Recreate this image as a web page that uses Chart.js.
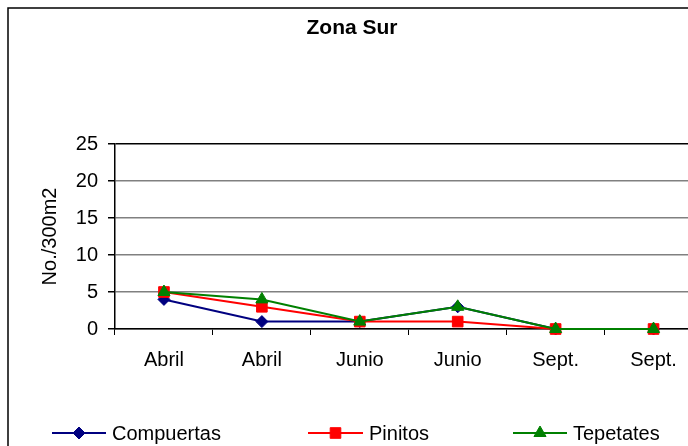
<!DOCTYPE html>
<html>
<head>
<meta charset="utf-8">
<script src="https://cdn.jsdelivr.net/npm/chart.js@4/dist/chart.umd.min.js"></script>
<style>
  html, body { margin: 0; padding: 0; background: #fff; }
  #wrap { width: 688px; height: 446px; overflow: hidden; position: relative; }
  canvas { display: block; }
</style>
</head>
<body>
<div id="wrap"><canvas id="c" width="711" height="446"></canvas></div>
<script>
const chartTitle = 'Zona Sur';
const yAxisTitle = 'No./300m2';
const categories = ['Abril', 'Abril', 'Junio', 'Junio', 'Sept.', 'Sept.'];
const seriesNames = ['Compuertas', 'Pinitos', 'Tepetates'];
const compuertas = [4, 1, 1, 3, 0, 0];
const pinitos = [5, 3, 1, 1, 0, 0];
const tepetates = [5, 4, 1, 3, 0, 0];
const yTicks = [0, 5, 10, 15, 20, 25];

const FONT = "'Liberation Sans', Arial, sans-serif";
const colors = ['#000080', '#FF0000', '#008000'];
const styles = ['rectRot', 'rect', 'triangle'];
const radii = [6, 7.5, 7];

const legendLayout = [
  { x0: 52, x1: 106, tx: 112 },
  { x0: 308, x1: 363, tx: 369 },
  { x0: 513, x1: 567, tx: 573 }
];

const decor = {
  id: 'decor',
  afterDraw(chart) {
    const ctx = chart.ctx;
    ctx.save();
    // frame
    ctx.strokeStyle = '#000';
    ctx.lineWidth = 1.5;
    ctx.beginPath();
    ctx.moveTo(8, 446);
    ctx.lineTo(8, 8);
    ctx.lineTo(710, 8);
    ctx.stroke();
    // title
    ctx.fillStyle = '#000';
    ctx.font = "bold 21px " + FONT;
    ctx.textAlign = 'center';
    ctx.textBaseline = 'middle';
    ctx.fillText(chartTitle, 352, 28);
    // legend
    ctx.font = "20px " + FONT;
    ctx.textAlign = 'left';
    ctx.textBaseline = 'middle';
    const ly = 433;
    chart.data.datasets.forEach((ds, i) => {
      const L = legendLayout[i];
      ctx.strokeStyle = ds.borderColor;
      ctx.lineWidth = 2;
      ctx.beginPath();
      ctx.moveTo(L.x0, ly);
      ctx.lineTo(L.x1, ly);
      ctx.stroke();
      ctx.fillStyle = ds.borderColor;
      ctx.strokeStyle = ds.borderColor;
      ctx.lineWidth = 1;
      Chart.helpers.drawPoint(ctx, { pointStyle: ds.pointStyle, radius: ds.pointRadius, rotation: 0, borderWidth: 1 }, (L.x0 + L.x1) / 2, ly);
      ctx.fillStyle = '#000';
      ctx.fillText(ds.label, L.tx, ly + 1);
    });
    ctx.restore();
  }
};

const seriesData = [compuertas, pinitos, tepetates];
const datasets = seriesData.map((d, i) => ({
  label: seriesNames[i],
  data: d,
  borderColor: colors[i],
  backgroundColor: colors[i],
  pointBackgroundColor: colors[i],
  pointBorderColor: colors[i],
  borderWidth: 2,
  pointStyle: styles[i],
  pointRadius: radii[i],
  pointHoverRadius: radii[i],
  pointBorderWidth: 1,
  tension: 0,
  clip: false,
  order: 2 - i
}));

new Chart(document.getElementById('c'), {
  type: 'line',
  data: { labels: categories, datasets },
  options: {
    responsive: false,
    animation: false,
    events: [],
    layout: { padding: { left: 8, top: 144, right: 2, bottom: 67 } },
    plugins: { legend: { display: false }, title: { display: false }, tooltip: { enabled: false } },
    scales: {
      x: {
        type: 'category',
        offset: true,
        afterFit(s) { s.height = 50; },
        grid: { display: true, offset: true, drawOnChartArea: false, drawTicks: true, tickLength: 6, tickColor: '#000', color: '#000' },
        border: { display: true, color: '#000', width: 1.5 },
        ticks: { color: '#000', font: { family: FONT, size: 20 }, padding: 13, maxRotation: 0, autoSkip: false }
      },
      y: {
        min: 0,
        max: 25,
        afterBuildTicks(s) { s.ticks = yTicks.map(v => ({ value: v })); },
        afterFit(s) { s.width = 107; },
        grid: {
          color: ctx => (ctx.tick && ctx.tick.value === 25) ? '#000' : '#808080',
          lineWidth: 1.5,
          tickLength: 7,
          tickColor: '#000'
        },
        border: { display: true, color: '#000', width: 1.5 },
        ticks: { color: '#000', font: { family: FONT, size: 20 }, padding: 10 },
        title: { display: true, text: yAxisTitle, color: '#000', font: { family: FONT, size: 20 }, padding: { top: 30, bottom: 0 } }
      }
    }
  },
  plugins: [decor]
});
</script>
</body>
</html>
